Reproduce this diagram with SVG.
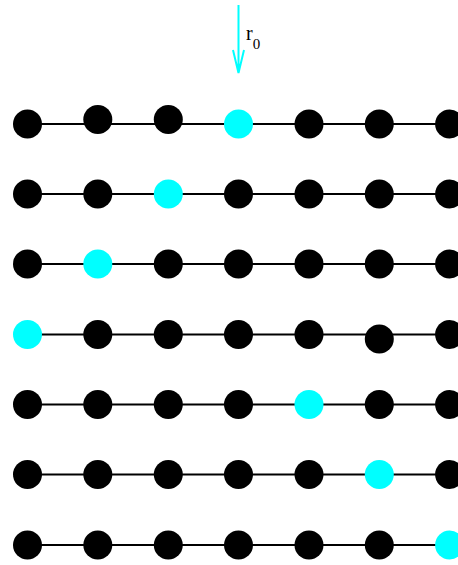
<svg xmlns="http://www.w3.org/2000/svg" width="458" height="565" viewBox="0 0 458 565">
<style>
.k{fill:#000}
.c{fill:#00ffff}
.ln{stroke:#000;stroke-width:2;fill:none}
.ar{stroke:#00ffff;stroke-width:2;fill:none}
.t{font-family:"Liberation Serif",serif;fill:#000}
</style>
<rect width="458" height="565" fill="#fff"/>
<g id="connectors">
<line class="ln" x1="27.5" y1="124" x2="458" y2="124"/>
<line class="ln" x1="27.5" y1="194" x2="458" y2="194"/>
<line class="ln" x1="27.5" y1="264" x2="458" y2="264"/>
<line class="ln" x1="27.5" y1="334.5" x2="458" y2="334.5"/>
<line class="ln" x1="27.5" y1="404.5" x2="458" y2="404.5"/>
<line class="ln" x1="27.5" y1="474.5" x2="458" y2="474.5"/>
<line class="ln" x1="27.5" y1="545" x2="458" y2="545"/>
<path class="ar" d="M238.5,5 V73 M233,50 L238.5,73 L244,50"/>
</g>
<g id="label">
<text class="t" x="246" y="39.5" font-size="20">r<tspan dy="9.5" font-size="15">0</tspan></text>
</g>
<g id="row1">
<circle class="k" cx="27.5" cy="124" r="14.5"/>
<circle class="k" cx="97.8" cy="119.5" r="14.5"/>
<circle class="k" cx="168.3" cy="119.5" r="14.5"/>
<circle class="c" cx="238.5" cy="124" r="14.5"/>
<circle class="k" cx="309" cy="124" r="14.5"/>
<circle class="k" cx="379.3" cy="124" r="14.5"/>
<circle class="k" cx="449.6" cy="124" r="14.5"/>
</g>
<g id="row2">
<circle class="k" cx="27.5" cy="194" r="14.5"/>
<circle class="k" cx="97.8" cy="194" r="14.5"/>
<circle class="c" cx="168.3" cy="194" r="14.5"/>
<circle class="k" cx="238.5" cy="194" r="14.5"/>
<circle class="k" cx="309" cy="194" r="14.5"/>
<circle class="k" cx="379.3" cy="194" r="14.5"/>
<circle class="k" cx="449.6" cy="194" r="14.5"/>
</g>
<g id="row3">
<circle class="k" cx="27.5" cy="264" r="14.5"/>
<circle class="c" cx="97.8" cy="264" r="14.5"/>
<circle class="k" cx="168.3" cy="264" r="14.5"/>
<circle class="k" cx="238.5" cy="264" r="14.5"/>
<circle class="k" cx="309" cy="264" r="14.5"/>
<circle class="k" cx="379.3" cy="264" r="14.5"/>
<circle class="k" cx="449.6" cy="264" r="14.5"/>
</g>
<g id="row4">
<circle class="c" cx="27.5" cy="334.5" r="14.5"/>
<circle class="k" cx="97.8" cy="334.5" r="14.5"/>
<circle class="k" cx="168.3" cy="334.5" r="14.5"/>
<circle class="k" cx="238.5" cy="334.5" r="14.5"/>
<circle class="k" cx="309" cy="334.5" r="14.5"/>
<circle class="k" cx="379.3" cy="339" r="14.5"/>
<circle class="k" cx="449.6" cy="334.5" r="14.5"/>
</g>
<g id="row5">
<circle class="k" cx="27.5" cy="404.5" r="14.5"/>
<circle class="k" cx="97.8" cy="404.5" r="14.5"/>
<circle class="k" cx="168.3" cy="404.5" r="14.5"/>
<circle class="k" cx="238.5" cy="404.5" r="14.5"/>
<circle class="c" cx="309" cy="404.5" r="14.5"/>
<circle class="k" cx="379.3" cy="404.5" r="14.5"/>
<circle class="k" cx="449.6" cy="404.5" r="14.5"/>
</g>
<g id="row6">
<circle class="k" cx="27.5" cy="474.5" r="14.5"/>
<circle class="k" cx="97.8" cy="474.5" r="14.5"/>
<circle class="k" cx="168.3" cy="474.5" r="14.5"/>
<circle class="k" cx="238.5" cy="474.5" r="14.5"/>
<circle class="k" cx="309" cy="474.5" r="14.5"/>
<circle class="c" cx="379.3" cy="474.5" r="14.5"/>
<circle class="k" cx="449.6" cy="474.5" r="14.5"/>
</g>
<g id="row7">
<circle class="k" cx="27.5" cy="545" r="14.5"/>
<circle class="k" cx="97.8" cy="545" r="14.5"/>
<circle class="k" cx="168.3" cy="545" r="14.5"/>
<circle class="k" cx="238.5" cy="545" r="14.5"/>
<circle class="k" cx="309" cy="545" r="14.5"/>
<circle class="k" cx="379.3" cy="545" r="14.5"/>
<circle class="c" cx="449.6" cy="545" r="14.5"/>
</g>
</svg>
